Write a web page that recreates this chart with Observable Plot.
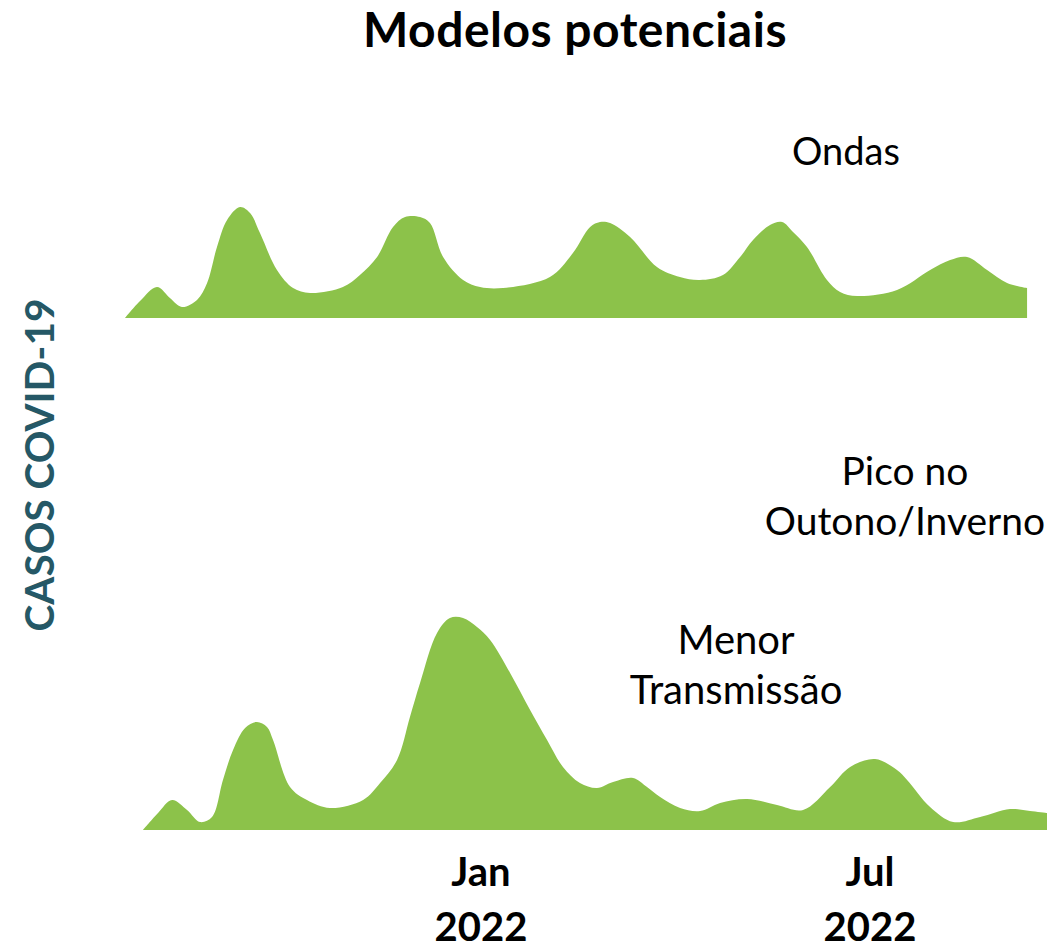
<!DOCTYPE html>
<html>
<head>
<meta charset="utf-8">
<script src="https://cdn.jsdelivr.net/npm/d3@7"></script>
<script src="https://cdn.jsdelivr.net/npm/@observablehq/plot@0.6"></script>
<style>
  html, body { margin: 0; padding: 0; background: #fff; }
  #wrap { position: relative; width: 1061px; height: 952px; overflow: hidden; font-family: Lato, "Open Sans", sans-serif; color: #000; }
  .abs { position: absolute; white-space: pre; text-align: center; transform: translateX(-50%); }
  .plotbox { position: absolute; left: 0; }
</style>
</head>
<body>
<div id="wrap"></div>
<script>
// Dias desde 2021-07-28 (eixo temporal) e casos (unidades relativas)
const diasOndas = [0, 7.0, 14.9, 20.9, 26.5, 33.5, 38.2, 42.8, 47.5, 53.5, 58.2, 62.8, 70.7, 78.2, 86.1, 101.4, 109.3, 117.3, 124.7, 130.3, 137.3, 141.9, 148.0, 157.3, 165.2, 175.9, 197.7, 208.4, 216.4, 221.0, 225.7, 235.0, 247.5, 258.2, 267.5, 278.2, 286.2, 292.2, 300.1, 305.7, 310.8, 317.3, 326.6, 332.7, 340.6, 359.2, 374.6, 383.9, 391.8, 401.1, 410.4, 419.7];
const casosOndas = [0, 17, 31, 20, 11, 18, 35, 71, 98, 111, 105, 85, 48, 30, 25, 31, 43, 61, 91, 101, 101, 95, 61, 38, 31, 30, 41, 65, 91, 96, 95, 81, 51, 41, 38, 43, 61, 78, 93, 96, 86, 71, 38, 26, 22, 28, 48, 58, 61, 48, 35, 30];

const diasMenor = [0, 7.0, 13.5, 20.5, 26.5, 32.1, 37.2, 41.9, 47.5, 53.0, 57.7, 60.5, 68.4, 76.3, 87.0, 102.4, 110.3, 118.2, 124.2, 128.9, 136.8, 142.8, 148.9, 155.4, 161.5, 170.8, 180.1, 188.0, 195.4, 203.3, 211.2, 218.7, 228.0, 234.5, 240.6, 249.9, 259.2, 268.5, 281.0, 295.0, 307.1, 319.7, 329.0, 340.6, 350.8, 355.5, 366.2, 376.9, 389.5, 403.4, 412.7, 420.6];
const casosMenor = [0, 17, 30, 20, 8, 13, 50, 80, 102, 108, 103, 90, 43, 30, 22, 30, 47, 70, 113, 147, 197, 212, 212, 203, 190, 157, 120, 90, 63, 47, 42, 48, 52, 43, 33, 22, 19, 27, 31, 25, 20, 43, 63, 71, 60, 50, 23, 8, 13, 21, 19, 17];

const tickDias = [157, 338];
const tickRotulos = ["Jan\n2022", "Jul\n2022"];

const titulo = "Modelos potenciais";
const rotuloY = "CASOS COVID-19";
const rotuloOndas = "Ondas";
const rotuloPico = "Pico no\nOutono/Inverno";
const rotuloMenor = "Menor\nTransmissão";

const verde = "#8cc24a";

const ondas = diasOndas.map((d, i) => ({dia: d, casos: casosOndas[i]}));
const menor = diasMenor.map((d, i) => ({dia: d, casos: casosMenor[i]}));

const wrap = document.getElementById("wrap");

const plotTopo = Plot.plot({
  width: 1061, height: 140,
  marginLeft: 125, marginRight: 32, marginTop: 0, marginBottom: 12,
  x: {domain: [0, 420.6], axis: null},
  y: {domain: [0, 128], axis: null},
  style: {background: "transparent"},
  marks: [
    Plot.areaY(ondas, {x: "dia", y: "casos", fill: verde, curve: "catmull-rom"})
  ]
});
plotTopo.classList.add("plotbox");
plotTopo.style.top = "190px";
wrap.appendChild(plotTopo);

const plotBase = Plot.plot({
  width: 1061, height: 392,
  marginLeft: 143, marginRight: 14, marginTop: 0, marginBottom: 122,
  x: {domain: [0, 420.6], label: null},
  y: {domain: [0, 270], axis: null},
  style: {background: "transparent", fontFamily: "Lato, 'Open Sans', sans-serif", color: "#000"},
  marks: [
    Plot.areaY(menor, {x: "dia", y: "casos", fill: verde, curve: "catmull-rom"}),
    Plot.axisX(tickDias, {
      tickFormat: d => tickRotulos[tickDias.indexOf(d)],
      label: null,
      tickSize: 0, tickPadding: 16,
      fontSize: 40, fontWeight: "bold", lineHeight: 1.38, fill: "#000"
    })
  ]
});
plotBase.classList.add("plotbox");
plotBase.style.top = "560px";
wrap.appendChild(plotBase);

function rotulo(texto, cx, top, size, lh, weight) {
  const el = document.createElement("div");
  el.className = "abs";
  el.textContent = texto;
  el.style.left = cx + "px";
  el.style.top = top + "px";
  el.style.fontSize = size + "px";
  el.style.lineHeight = lh + "px";
  el.style.fontWeight = weight;
  wrap.appendChild(el);
  return el;
}

const t = rotulo(titulo, 575, 5.4, 48, 48, 700);
t.style.letterSpacing = "0.5px";
rotulo(rotuloOndas, 846, 131, 38, 38, 400);
rotulo(rotuloPico, 905, 445, 39, 50, 400);
rotulo(rotuloMenor, 736, 614, 40, 50, 400);

const y = document.createElement("div");
y.textContent = rotuloY;
y.style.position = "absolute";
y.style.left = "39px";
y.style.top = "465px";
y.style.fontSize = "40.5px";
y.style.lineHeight = "40px";
y.style.fontWeight = "700";
y.style.color = "#255866";
y.style.whiteSpace = "nowrap";
y.style.transform = "translate(-50%, -50%) rotate(-90deg)";
wrap.appendChild(y);
</script>
</body>
</html>
